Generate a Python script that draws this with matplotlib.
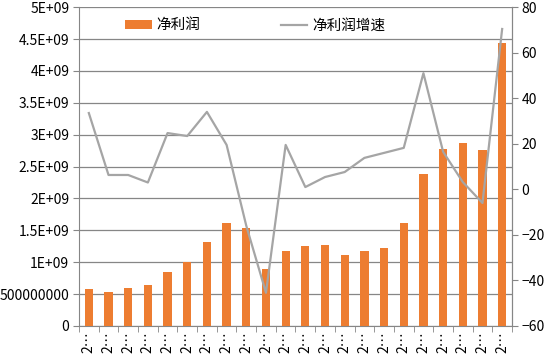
import numpy as np
import matplotlib
matplotlib.use("Agg")
import matplotlib.pyplot as plt

plt.rcParams['font.family'] = ['Noto Sans CJK SC', 'DejaVu Sans']

# 数据
categories = ["2…"] * 22
profit = [0.58e9, 0.54e9, 0.59e9, 0.65e9, 0.85e9, 1.01e9, 1.31e9, 1.61e9, 1.54e9, 0.90e9,
          1.17e9, 1.26e9, 1.27e9, 1.11e9, 1.17e9, 1.23e9, 1.62e9, 2.39e9, 2.77e9, 2.87e9,
          2.76e9, 4.44e9]
growth = [33.5, 6.3, 6.3, 3.0, 24.7, 23.4, 34.0, 19.5, -16.0, -45.4,
          19.5, 1.0, 5.4, 7.6, 13.8, 16.0, 18.2, 51.0, 16.5, 3.2,
          -6.0, 70.4]
left_ticks = [0, 0.5e9, 1e9, 1.5e9, 2e9, 2.5e9, 3e9, 3.5e9, 4e9, 4.5e9, 5e9]
left_labels = ["0", "500000000", "1E+09", "1.5E+09", "2E+09", "2.5E+09",
               "3E+09", "3.5E+09", "4E+09", "4.5E+09", "5E+09"]
right_ticks = [-60, -40, -20, 0, 20, 40, 60, 80]

grid_col = "#868686"
x = np.arange(len(categories))

fig = plt.figure(figsize=(5.47, 3.56), dpi=100)
ax = fig.add_axes([0.1444, 0.0843, 0.7916, 0.8957])
ax2 = ax.twinx()

bars = ax.bar(x, profit, width=0.42, color="#ED7D31", zorder=3, label="净利润")
line, = ax2.plot(x, growth, color="#A5A5A5", lw=1.6, label="净利润增速")

ax.set_xlim(-0.5, len(categories) - 0.5)
ax.set_ylim(0, 5e9)
ax2.set_ylim(-60, 80)
ax.set_yticks(left_ticks, left_labels)
ax2.set_yticks(right_ticks)
ax.yaxis.grid(True, color=grid_col, lw=0.9, zorder=0)
ax.set_axisbelow(True)

# x 轴刻度放在类别之间
ax.set_xticks(x)
ax.set_xticklabels(categories, rotation=90, fontsize=10)
ax.set_xticks(np.arange(-0.5, len(categories)), minor=True)
ax.tick_params(axis='x', which='major', length=0, pad=4)
ax.tick_params(axis='x', which='minor', length=4, color=grid_col)
ax.tick_params(axis='y', length=4, color=grid_col, labelsize=10, pad=3)
ax2.tick_params(axis='y', length=4, color=grid_col, labelsize=10, pad=3)

for a in (ax, ax2):
    a.spines['top'].set_visible(False)
    for s in ('left', 'right', 'bottom'):
        a.spines[s].set_color(grid_col)
ax2.spines['left'].set_visible(False)
ax2.spines['bottom'].set_visible(False)

fig.legend([bars, line], ["净利润", "净利润增速"], loc="upper left",
           bbox_to_anchor=(0.205, 0.985), ncol=2, frameon=False, fontsize=10.5,
           columnspacing=5.5, handlelength=1.8, handleheight=0.6, handletextpad=0.35)

fig.savefig("out.png", dpi=100)
